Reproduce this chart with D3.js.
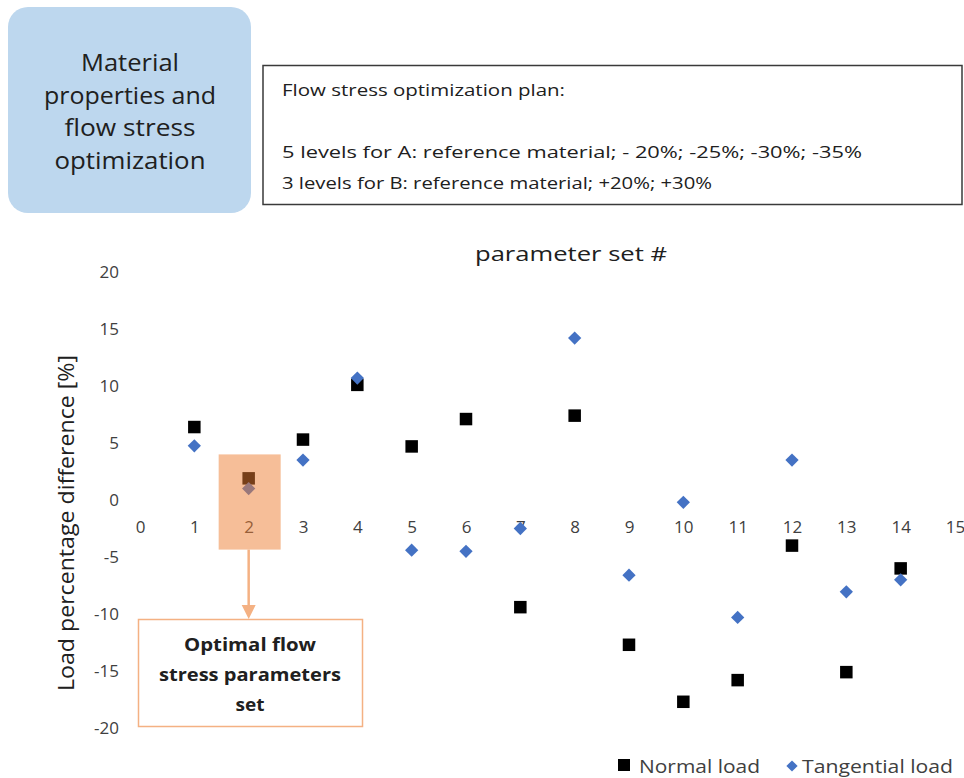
<!DOCTYPE html>
<html>
<head>
<meta charset="utf-8">
<script src="https://cdn.jsdelivr.net/npm/d3@7"></script>
<style>
  html, body { margin: 0; padding: 0; background: #fff; }
  svg { display: block; font-family: "Open Sans", Lato, sans-serif; }
</style>
</head>
<body>
<svg id="chart" width="964" height="778"></svg>
<script>
// ---- data ----
const parameterSets = [1, 2, 3, 4, 5, 6, 7, 8, 9, 10, 11, 12, 13, 14];
const normalLoad = [6.4, 1.9, 5.3, 10.1, 4.7, 7.1, -9.4, 7.4, -12.7, -17.7, -15.8, -4.0, -15.1, -6.0];
const tangentialLoad = [4.75, 1.0, 3.5, 10.7, -4.4, -4.5, -2.5, 14.2, -6.6, -0.2, -10.3, 3.5, -8.05, -7.0];
const xTicks = [0, 1, 2, 3, 4, 5, 6, 7, 8, 9, 10, 11, 12, 13, 14, 15];
const yTicks = [-20, -15, -10, -5, 0, 5, 10, 15, 20];
const optimalSet = 2;
const titleLines = ["Material", "properties and", "flow stress", "optimization"];
const planLines = ["Flow stress optimization plan:", "", "5 levels for A: reference material; - 20%; -25%; -30%; -35%", "3 levels for B: reference material; +20%; +30%"];
const noteLines = ["Optimal flow", "stress parameters", "set"];
const seriesNames = ["Normal load", "Tangential load"];

// measured text widths in the reference (layout only)
const titleWidths = [98, 172, 131, 151];
const planWidths = [283, 0, 580, 430];
const noteWidths = [132, 182, 29];

const svg = d3.select("#chart");
const textColor = "#404040";
const dark = "#202020";

function fit(sel, widths) {
  sel.each(function (d, i) {
    if (widths[i] > 0) d3.select(this).attr("textLength", widths[i]).attr("lengthAdjust", "spacingAndGlyphs");
  });
}

// ---- header boxes ----
svg.append("rect").attr("x", 8).attr("y", 7).attr("width", 243).attr("height", 206)
  .attr("rx", 20).attr("fill", "#BDD7EE");
svg.append("g").selectAll("text").data(titleLines).join("text")
  .attr("x", 130).attr("y", (d, i) => 71 + i * 32.5)
  .attr("text-anchor", "middle").attr("font-size", 23).attr("fill", dark)
  .text(d => d).call(fit, titleWidths);

svg.append("rect").attr("x", 263).attr("y", 65.5).attr("width", 699).attr("height", 139)
  .attr("fill", "#fff").attr("stroke", "#3a3a3a").attr("stroke-width", 1.5);
svg.append("g").selectAll("text").data(planLines).join("text")
  .attr("x", 282).attr("y", (d, i) => 96 + i * 31)
  .attr("font-size", 17).attr("fill", dark)
  .text(d => d).call(fit, planWidths);

// ---- scales ----
const x = d3.scaleLinear().domain([0, 15]).range([140, 955]);
const y = d3.scaleLinear().domain([-20, 20]).range([728, 272]);

// axes
const yAxis = svg.append("g").attr("transform", `translate(140,0)`)
  .call(d3.axisLeft(y).tickValues(yTicks).tickSize(0).tickPadding(21).tickFormat(d => String(d)));
yAxis.select(".domain").remove();
yAxis.selectAll("text").attr("font-size", 17).attr("fill", textColor).attr("font-family", "'Open Sans', sans-serif");

const xAxis = svg.append("g").attr("transform", `translate(0,${y(0)})`)
  .call(d3.axisBottom(x).tickValues(xTicks).tickSize(0).tickPadding(21).tickFormat(d => String(d)));
xAxis.select(".domain").remove();
xAxis.selectAll("text").attr("font-size", 17).attr("fill", textColor).attr("font-family", "'Open Sans', sans-serif");

// axis titles
svg.append("text").attr("x", 571).attr("y", 261).attr("text-anchor", "middle")
  .attr("font-size", 20).attr("fill", dark).text("parameter set #")
  .attr("textLength", 192).attr("lengthAdjust", "spacingAndGlyphs");
svg.append("text").attr("transform", `translate(74,${523}) rotate(-90)`)
  .attr("text-anchor", "middle").attr("font-size", 22).attr("fill", dark)
  .text("Load percentage difference [%]")
  .attr("textLength", 336).attr("lengthAdjust", "spacingAndGlyphs");

// ---- points ----
const sq = 12.5;
svg.append("g").selectAll("rect").data(parameterSets).join("rect")
  .attr("x", (d) => x(d) - sq / 2)
  .attr("y", (d, i) => y(normalLoad[i]) - sq / 2)
  .attr("width", sq).attr("height", sq).attr("fill", "#000");

const diamond = d3.symbol().type(d3.symbolDiamond2).size(112);
svg.append("g").selectAll("path").data(parameterSets).join("path")
  .attr("transform", (d, i) => `translate(${x(d)},${y(tangentialLoad[i])})`)
  .attr("d", diamond).attr("fill", "#4472C4");

// ---- highlight of optimal set ----
const hx0 = x(optimalSet) - 30, hx1 = x(optimalSet) + 32;
svg.append("rect").attr("x", hx0).attr("y", y(4.0)).attr("width", hx1 - hx0)
  .attr("height", y(-4.35) - y(4.0)).attr("fill", "#ED7D31").attr("opacity", 0.5);

// arrow
const ax = x(optimalSet);
svg.append("line").attr("x1", ax).attr("x2", ax).attr("y1", y(-4.35)).attr("y2", 606)
  .attr("stroke", "#F4B183").attr("stroke-width", 2.5);
svg.append("path").attr("d", `M${ax - 7},605 L${ax + 7},605 L${ax},619 Z`).attr("fill", "#F4B183");

// note box
svg.append("rect").attr("x", 138.5).attr("y", 619.5).attr("width", 224).attr("height", 107)
  .attr("fill", "#fff").attr("stroke", "#F4B183").attr("stroke-width", 1.5);
svg.append("g").selectAll("text").data(noteLines).join("text")
  .attr("x", 250).attr("y", (d, i) => 651 + i * 30)
  .attr("text-anchor", "middle").attr("font-size", 18).attr("font-weight", "bold").attr("fill", dark)
  .text(d => d).call(fit, noteWidths);

// ---- legend ----
const lg = svg.append("g");
lg.append("rect").attr("x", 618).attr("y", 759).attr("width", 12).attr("height", 12).attr("fill", "#000");
lg.append("text").attr("x", 639).attr("y", 773).attr("font-size", 18).attr("fill", textColor).text(seriesNames[0])
  .attr("textLength", 121).attr("lengthAdjust", "spacingAndGlyphs");
lg.append("path").attr("transform", "translate(792,766)").attr("d", d3.symbol().type(d3.symbolDiamond2).size(80)).attr("fill", "#4472C4");
lg.append("text").attr("x", 802).attr("y", 773).attr("font-size", 18).attr("fill", textColor).text(seriesNames[1])
  .attr("textLength", 151).attr("lengthAdjust", "spacingAndGlyphs");
</script>
</body>
</html>
